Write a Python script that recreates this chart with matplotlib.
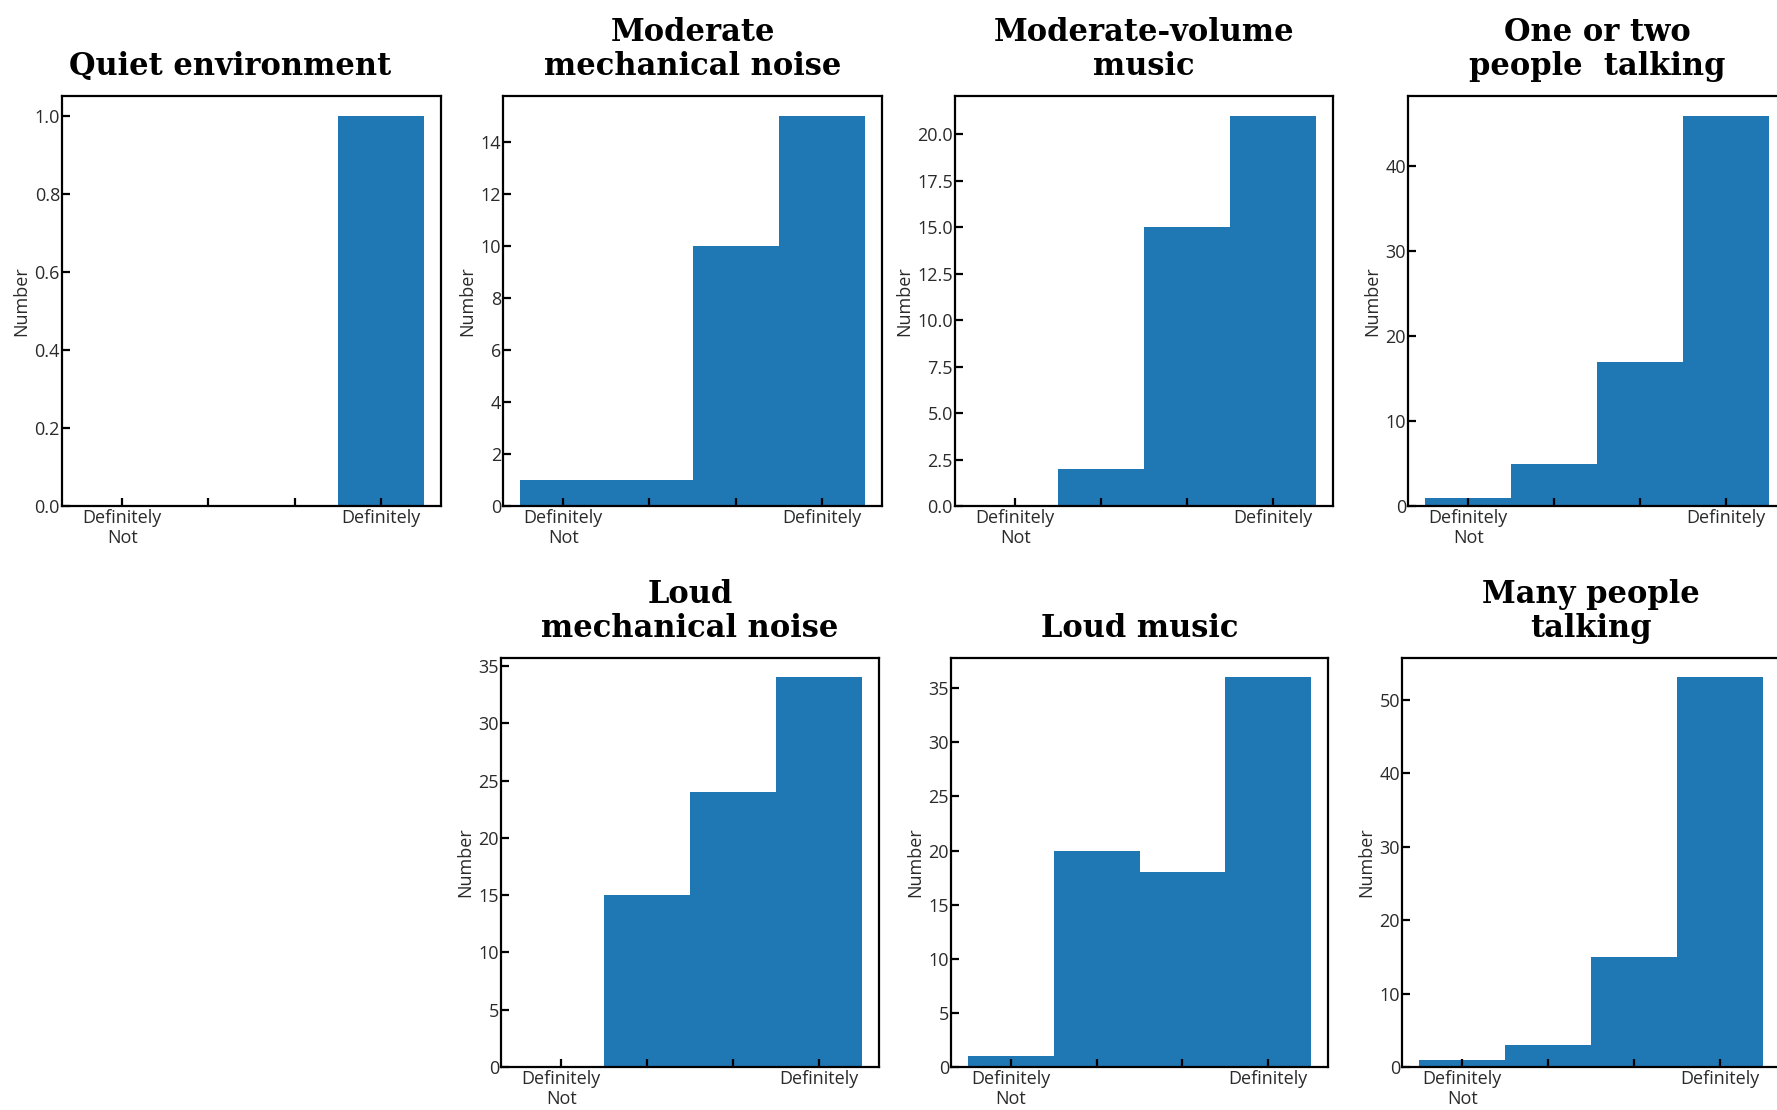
import matplotlib.pyplot as plt

W, H = 1777, 1110

# answers on a 4-point scale, "Definitely Not" ... "Definitely"
levels = [0, 1, 2, 3]
level_labels = ['Definitely\nNot', '', '', 'Definitely']

titles = ['Quiet environment', 'Moderate\nmechanical noise', 'Moderate-volume\nmusic',
          'One or two\npeople  talking', 'Loud\nmechanical noise', 'Loud music',
          'Many people\ntalking']
quiet_env = [0, 0, 0, 1]
moderate_mech = [1, 1, 10, 15]
moderate_music = [0, 2, 15, 21]
few_people = [1, 5, 17, 46]
loud_mech = [0, 15, 24, 34]
loud_music = [1, 20, 18, 36]
many_people = [1, 3, 15, 53]
counts = [quiet_env, moderate_mech, moderate_music, few_people,
          loud_mech, loud_music, many_people]

# panel boxes in pixels: left, top, right, bottom
boxes = [(62, 96, 441, 506), (503, 96, 882, 506), (955, 96, 1333, 506),
         (1408, 96, 1786, 506),
         (501, 658, 879, 1067), (951, 658, 1328, 1067), (1402, 658, 1780, 1067)]

plt.rcParams['font.family'] = ['Open Sans', 'DejaVu Sans']

fig = plt.figure(figsize=(W / 100, H / 100), dpi=100)
fig.patch.set_facecolor('white')

for i, (title, vals, (l, t, r, b)) in enumerate(zip(titles, counts, boxes)):
    ax = fig.add_axes([l / W, 1 - b / H, (r - l) / W, (b - t) / H])
    ax.bar(levels, vals, width=1.0, color='#1f77b4', linewidth=0)
    ax.set_xlim(-0.7, 3.7)
    ax.set_xticks(levels, level_labels)
    ax.tick_params(direction='in', length=6, width=1.6, labelsize=13,
                   colors='black', labelcolor='#2a2a2a')
    ax.tick_params(axis='x', pad=2.5)
    ax.tick_params(axis='y', pad=1.5)
    for lab in ax.get_xticklabels():
        lab.set_linespacing(1.1)
    ax.set_ylabel('Number', fontsize=13, color='#2a2a2a', labelpad=3)
    for sp in ax.spines.values():
        sp.set_linewidth(1.6)
        sp.set_color('black')
    tx = 0.443 if i == 0 else 0.5
    ax.set_title(title, family='DejaVu Serif', fontweight='bold', fontsize=22,
                 linespacing=1.12, pad=15, x=tx)

fig.savefig('out.png', dpi=100, facecolor='white')
